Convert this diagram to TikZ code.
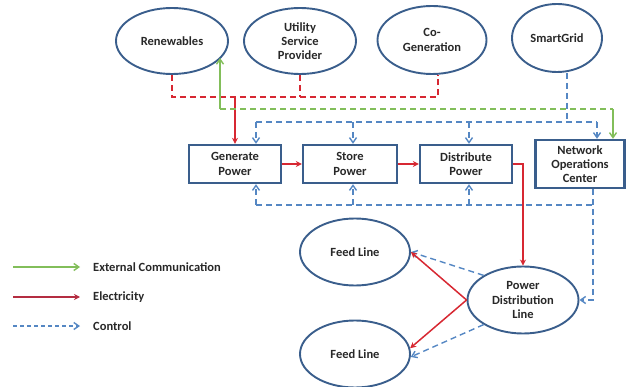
\documentclass[tikz,border=0pt]{standalone}
\usepackage{fontspec}
\setmainfont{Carlito}
\usetikzlibrary{shapes.geometric,arrows.meta}
\definecolor{edgeblue}{RGB}{58,94,140}
\definecolor{elred}{RGB}{215,40,50}
\definecolor{legred}{RGB}{180,45,65}
\definecolor{extgreen}{RGB}{130,190,90}
\definecolor{ctrlblue}{RGB}{85,135,195}
\definecolor{txt}{RGB}{40,40,40}
\tikzset{
  oval/.style={ellipse,draw=edgeblue,line width=1.9pt,fill=white,inner sep=0pt,align=center,text=txt,font=\fontsize{12.5}{14.3}\selectfont\bfseries},
  box/.style={rectangle,draw=edgeblue,line width=2.4pt,fill=white,inner sep=0pt,align=center,text=txt,font=\fontsize{12.5}{14.3}\selectfont\bfseries},
  elec/.style={draw=elred,line width=1.5pt},
  elecarrow/.style={elec,-{Stealth[length=6pt,width=6pt]}},
  eldash/.style={elec,dash pattern=on 6pt off 4pt},
  ext/.style={draw=extgreen,line width=1.4pt},
  extarrow/.style={ext,-{Straight Barb[length=5pt,width=7pt]}},
  ctrl/.style={draw=ctrlblue,line width=1.4pt,dash pattern=on 6pt off 4pt},
  ctrlarrow/.style={ctrl,-{Straight Barb[length=5pt,width=7pt]}},
  legtext/.style={anchor=west,text=txt,font=\fontsize{12.5}{14.3}\selectfont\bfseries,inner sep=0pt}
}
\begin{document}
\begin{tikzpicture}[x=1pt,y=-1pt]
\useasboundingbox (0,0) rectangle (626,387);
% top ellipses
\node[oval,minimum width=112pt,minimum height=66pt] (ren) at (172,41) {Renewables};
\node[oval,minimum width=112pt,minimum height=66pt] (usp) at (300,41) {Utility\\Service\\Provider};
\node[oval,minimum width=109pt,minimum height=68pt] (cog) at (432,40) {Co-\\Generation};
\node[oval,minimum width=90pt,minimum height=68pt] (sg) at (557,38) {SmartGrid};
% boxes
\node[box,minimum width=92pt,minimum height=38pt] (gen) at (235,164) {Generate\\Power};
\node[box,minimum width=94pt,minimum height=38pt] (sto) at (350,164) {Store\\Power};
\node[box,minimum width=92pt,minimum height=38pt] (dis) at (466,164) {Distribute\\Power};
\node[box,minimum width=89pt,minimum height=48pt] (noc) at (580,164) {Network\\Operations\\Center};
% lower ellipses
\node[oval,minimum width=111pt,minimum height=67pt] (pdl) at (523,300) {Power\\Distribution\\Line};
\node[oval,minimum width=110pt,minimum height=67pt] (fl1) at (355,252) {Feed Line};
\node[oval,minimum width=110pt,minimum height=67pt] (fl2) at (355,354) {Feed Line};
% coordinates
\coordinate (rbus) at (172,97);
\coordinate (cbus) at (438,97);
\coordinate (g1) at (220,109);
\coordinate (g2) at (613,109);
\coordinate (t1) at (256,122);
\coordinate (t2) at (353,122);
\coordinate (t3) at (469,122);
\coordinate (t4) at (597,122);
\coordinate (ts) at (567,122);
\coordinate (b1) at (256,205);
\coordinate (b2) at (353,205);
\coordinate (b3) at (469,205);
\coordinate (b4) at (593,205);
% red dashed supply bus
\draw[eldash] (ren.south) -- (rbus) -- (cbus) -- (cbus |- cog.south);
\draw[eldash] (usp.south) -- (usp.south |- rbus);
\draw[elecarrow] (gen.north |- rbus) -- (gen.north);
% green external communication
\draw[extarrow] (g1) -- (g1 |- ren.-19.5);
\draw[ext,dash pattern=on 6pt off 4pt] (g1) -- (g2);
\draw[extarrow] (g2) -- (g2 |- noc.north);
% control top
\draw[ctrl] (t1) -- (t4);
\draw[ctrl] (ts |- sg.south) -- (ts);
\draw[ctrlarrow] (t1) -- (t1 |- gen.north);
\draw[ctrlarrow] (t2) -- (t2 |- sto.north);
\draw[ctrlarrow] (t3) -- (t3 |- dis.north);
\draw[ctrlarrow] (t4) -- (t4 |- noc.north);
% control bottom
\draw[ctrl] (b1) -- (b4);
\draw[ctrlarrow] (b1) -- (b1 |- gen.south);
\draw[ctrlarrow] (b2) -- (b2 |- sto.south);
\draw[ctrlarrow] (b3) -- (b3 |- dis.south);
\draw[ctrlarrow] (b4 |- noc.south) |- (pdl.east);
% electricity chain
\draw[elecarrow] (gen.east) -- (sto.west);
\draw[elecarrow] (sto.east) -- (dis.west);
\draw[elecarrow] (dis.east) -| (pdl.north);
% feed lines
\draw[ctrlarrow] (pdl.148) -- (fl1.east);
\draw[ctrlarrow] (pdl.212) -- (fl2.-3);
\draw[elecarrow] (pdl.west) -- (fl1.east);
\draw[elecarrow] (pdl.west) -- (fl2.6);
% legend
\coordinate (l1a) at (13,267); \coordinate (l1b) at (80,267);
\coordinate (l2a) at (13,297); \coordinate (l2b) at (80,297);
\coordinate (l3a) at (13,326); \coordinate (l3b) at (80,326);
\draw[extarrow] (l1a) -- (l1b);
\draw[draw=legred,line width=1.6pt,-{Stealth[length=6pt,width=6pt]}] (l2a) -- (l2b);
\draw[ctrlarrow,dash pattern=on 4pt off 3pt] (l3a) -- (l3b);
\node[legtext] (lt1) at (93,267) {External Communication};
\node[legtext] (lt2) at (93,297) {Electricity};
\node[legtext] (lt3) at (93,326) {Control};
\end{tikzpicture}
\end{document}
